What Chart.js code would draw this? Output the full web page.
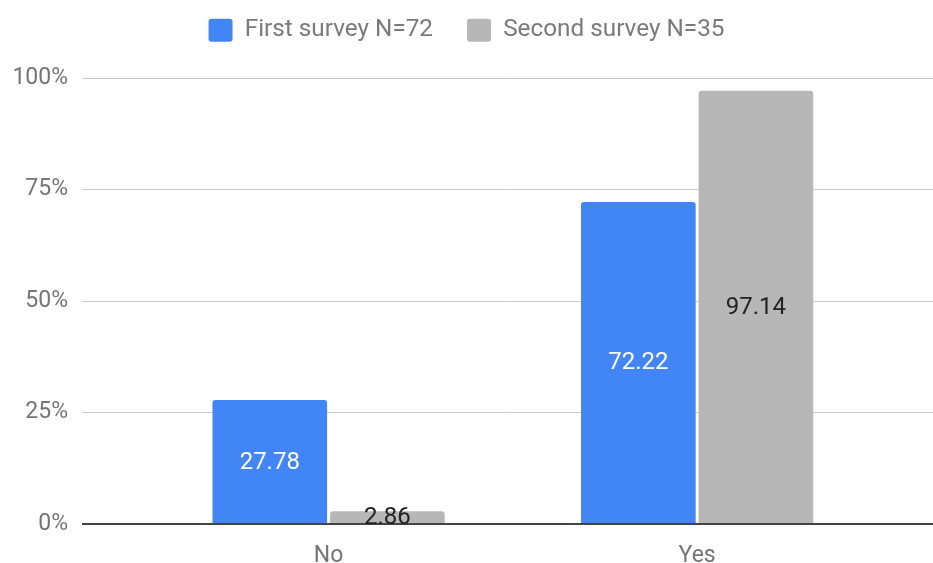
<!DOCTYPE html>
<html>
<head>
<meta charset="utf-8">
<script src="https://cdn.jsdelivr.net/npm/chart.js@4/dist/chart.umd.min.js"></script>
<style>
  html, body { margin: 0; padding: 0; background: #fff; overflow: hidden; }
  #wrap { position: relative; width: 933px; height: 563px; }
</style>
</head>
<body>
<div id="wrap"><canvas id="surveyChart"></canvas></div>
<script>
// answers and percentages for both surveys
const categories = ['No', 'Yes'];
const seriesNames = ['First survey N=72', 'Second survey N=35'];
const firstSurvey = [27.78, 72.22];
const secondSurvey = [2.86, 97.14];
const yTicks = [0, 25, 50, 75, 100];

const FONT = 'Roboto, "Noto Sans", sans-serif';

// bars sit on a linear x axis so the plot can have uneven side padding
function toPoints(values) {
    return values.map((v, i) => ({ x: i, y: v }));
}

// value text in the middle of each bar
const barLabels = {
    id: 'barLabels',
    afterDatasetsDraw(chart) {
        const ctx = chart.ctx;
        ctx.save();
        ctx.font = '24px ' + FONT;
        ctx.textAlign = 'center';
        ctx.textBaseline = 'middle';
        chart.data.datasets.forEach((ds, di) => {
            const meta = chart.getDatasetMeta(di);
            meta.data.forEach((bar, i) => {
                const value = ds.data[i].y;
                ctx.fillStyle = di === 0 ? '#ffffff' : '#222222';
                ctx.fillText(value.toFixed(2), bar.x, (bar.y + bar.base) / 2 + 1);
            });
        });
        ctx.restore();
    }
};

// fixed legend height so the plot starts at the right place
const legendHeight = {
    id: 'legendHeight',
    beforeInit(chart) {
        const origFit = chart.legend.fit;
        chart.legend.fit = function() {
            origFit.bind(chart.legend)();
            this.height = 94;
        };
    }
};

const ctx = document.getElementById('surveyChart').getContext('2d');
new Chart(ctx, {
    type: 'bar',
    data: {
        datasets: [{
            label: seriesNames[0],
            data: toPoints(firstSurvey),
            backgroundColor: '#4285f4',
            borderRadius: 3,
            barPercentage: 0.975,
            categoryPercentage: 0.638
        }, {
            label: seriesNames[1],
            data: toPoints(secondSurvey),
            backgroundColor: '#b7b7b7',
            borderRadius: 3,
            barPercentage: 0.975,
            categoryPercentage: 0.638
        }]
    },
    options: {
        responsive: true,
        maintainAspectRatio: false,
        animation: false,
        layout: { padding: { top: -16, left: 0, right: 0, bottom: 0 } },
        scales: {
            x: {
                type: 'linear',
                offset: false,
                min: -0.669,
                max: 1.64,
                afterBuildTicks(scale) {
                    scale.ticks = categories.map((c, i) => ({ value: i }));
                },
                afterFit(scale) {
                    scale.height = 39;
                    scale.paddingLeft = 0;
                    scale.paddingRight = 0;
                },
                ticks: {
                    callback: (v) => categories[v],
                    font: { family: FONT, size: 23 },
                    color: '#757575',
                    padding: 10,
                    maxRotation: 0
                },
                grid: { display: false },
                border: { display: false }
            },
            y: {
                min: 0,
                max: 100,
                afterBuildTicks(scale) {
                    scale.ticks = yTicks.map(v => ({ value: v }));
                },
                afterFit(scale) {
                    scale.width = 82;
                },
                ticks: {
                    callback: (v) => v + '%',
                    font: { family: FONT, size: 23 },
                    color: '#757575',
                    padding: 14
                },
                grid: {
                    drawTicks: false,
                    color: (c) => c.tick.value === 0 ? '#444444' : '#cccccc',
                    lineWidth: (c) => c.tick.value === 0 ? 2 : 1
                },
                border: { display: false }
            }
        },
        plugins: {
            legend: {
                position: 'top',
                labels: {
                    font: { family: FONT, size: 24.3 },
                    color: '#7a7a7a',
                    boxWidth: 24,
                    boxHeight: 23,
                    useBorderRadius: true,
                    borderRadius: 3,
                    padding: 34
                }
            },
            tooltip: { enabled: false }
        }
    },
    plugins: [barLabels, legendHeight]
});
</script>
</body>
</html>
